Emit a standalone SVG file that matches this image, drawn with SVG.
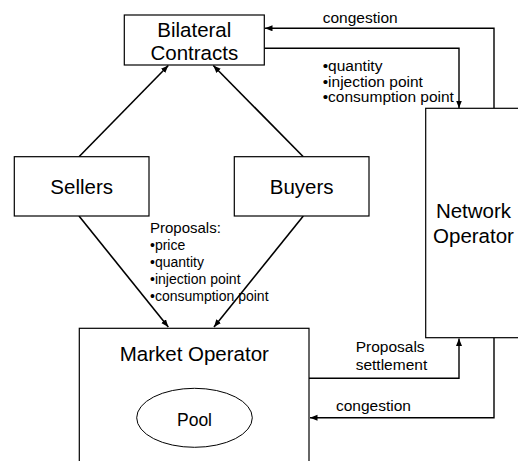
<svg xmlns="http://www.w3.org/2000/svg" width="518" height="461" viewBox="0 0 518 461">
<defs>
<style>
text{font-family:"Liberation Sans",Arial,sans-serif;fill:#000}
.big{font-size:20.5px;text-anchor:middle}
.sm{font-size:15.5px}
.md{font-size:14px}
.box{fill:#fff;stroke:#000;stroke-width:1.2}
.ln{fill:none;stroke:#000;stroke-width:1.4}
.dg{fill:none;stroke:#000;stroke-width:1.6}
</style>
<marker id="ah" markerUnits="userSpaceOnUse" markerWidth="8" markerHeight="7" refX="7.5" refY="3" orient="auto">
<path d="M0,0 L7.5,3 L0,6 z" fill="#000"/>
</marker>
</defs>
<rect width="518" height="461" fill="#fff"/>
<g id="connectors">
<path class="ln" d="M494,108.3 V28.3 H265" marker-end="url(#ah)"/>
<path class="ln" d="M264.3,48.3 H459 V108" marker-end="url(#ah)"/>
<path class="dg" d="M79,156.7 L168.3,65.5" marker-end="url(#ah)"/>
<path class="dg" d="M303.3,156.7 L213.3,65.5" marker-end="url(#ah)"/>
<path class="dg" d="M79,216 L168.3,327" marker-end="url(#ah)"/>
<path class="dg" d="M303.3,216 L214,327" marker-end="url(#ah)"/>
<path class="ln" d="M309,378.3 H459 V338.5" marker-end="url(#ah)"/>
<path class="ln" d="M494,337.7 V417.7 H310" marker-end="url(#ah)"/>
<text class="sm" x="322.7" y="23.3">congestion</text>
<text class="sm" x="322.7" y="71">•quantity</text>
<text class="sm" x="322.7" y="86.5">•injection point</text>
<text class="sm" x="322.7" y="102">•consumption point</text>
<text class="md" x="150" y="233" style="font-size:15px">Proposals:</text>
<text class="md" x="150" y="250">•price</text>
<text class="md" x="150" y="266.5">•quantity</text>
<text class="md" x="150" y="283.5">•injection point</text>
<text class="md" x="150" y="300.5">•consumption point</text>
<text class="sm" x="355.7" y="351.7">Proposals</text>
<text class="sm" x="355.7" y="370">settlement</text>
<text class="sm" x="336" y="411">congestion</text>
</g>
<g id="bilateral">
<rect class="box" x="124.3" y="15" width="140" height="50"/>
<text class="big" x="194.3" y="36.7">Bilateral</text>
<text class="big" x="194.3" y="60">Contracts</text>
</g>
<g id="sellers">
<rect class="box" x="14.3" y="156.7" width="134.7" height="59.3"/>
<text class="big" x="81.7" y="193.5">Sellers</text>
</g>
<g id="buyers">
<rect class="box" x="234.3" y="156.7" width="134.7" height="59.3"/>
<text class="big" x="301.7" y="194">Buyers</text>
</g>
<g id="network">
<rect class="box" x="425.7" y="108.3" width="96" height="229.4"/>
<text class="big" x="473.5" y="218.3">Network</text>
<text class="big" x="473.5" y="243">Operator</text>
</g>
<g id="market">
<rect class="box" x="79.3" y="328.3" width="229.7" height="145"/>
<text class="big" x="194.3" y="361">Market Operator</text>
</g>
<g id="pool">
<ellipse cx="194.5" cy="417.8" rx="57.8" ry="29.5" fill="#fff" stroke="#000" stroke-width="1"/>
<text x="194.5" y="426" style="font-size:17.5px;text-anchor:middle">Pool</text>
</g>
</svg>
